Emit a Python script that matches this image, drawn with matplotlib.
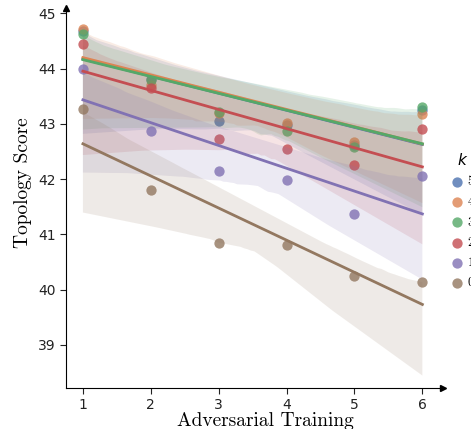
import matplotlib
matplotlib.use("Agg")
import matplotlib.pyplot as plt
import numpy as np
import pandas as pd
import seaborn as sns

x_vals = [1, 2, 3, 4, 5, 6]
k_labels = ["5", "4", "3", "2", "1", "0"]
score_k5 = [44.68, 43.82, 43.05, 42.98, 42.62, 43.25]
score_k4 = [44.72, 43.70, 43.20, 43.02, 42.68, 43.18]
score_k3 = [44.63, 43.80, 43.22, 42.87, 42.58, 43.30]
score_k2 = [44.45, 43.65, 42.72, 42.55, 42.25, 42.90]
score_k1 = [44.00, 42.87, 42.15, 41.98, 41.36, 42.05]
score_k0 = [43.27, 41.80, 40.85, 40.80, 40.25, 40.14]
series = [score_k5, score_k4, score_k3, score_k2, score_k1, score_k0]

colors = sns.color_palette("deep", 6)

fig = plt.figure(figsize=(4.71, 4.29), dpi=100)
ax = fig.add_axes([0.14, 0.0956, 0.80, 0.885])

handles = []
for lab, ys, c in zip(k_labels, series, colors):
    df = pd.DataFrame({"x": x_vals, "y": ys})
    sns.regplot(data=df, x="x", y="y", ax=ax, color=c, seed=0,
                scatter_kws=dict(s=55, alpha=0.8, linewidths=0),
                line_kws=dict(lw=2), truncate=True)
    handles.append(ax.scatter([], [], s=55, color=c, alpha=0.8, linewidths=0, label=lab))

ax.set_xlim(0.75, 6.3)
ax.set_ylim(38.22, 45.09)
ax.set_xticks(x_vals)
ax.set_yticks([39, 40, 41, 42, 43, 44, 45])
ax.tick_params(labelsize=10, colors="#222222", direction="out", length=4)
for s in ["top", "right"]:
    ax.spines[s].set_visible(False)
ax.plot(1, 0, ">k", transform=ax.transAxes, clip_on=False, ms=4)
ax.plot(0, 1, "^k", transform=ax.transAxes, clip_on=False, ms=4)

ax.set_xlabel("Adversarial Training", family="cmr10", fontsize=14)
ax.set_ylabel("Topology Score", family="cmr10", fontsize=14)
ax.xaxis.set_label_coords(0.528, -0.062)
ax.yaxis.set_label_coords(-0.09, 0.542)

leg = fig.legend(handles=handles, title="$k$", loc="upper left",
                 bbox_to_anchor=(0.934, 0.672), frameon=False,
                 prop={"family": "cmr10", "size": 9}, handletextpad=0.3,
                 handlelength=1.0, labelspacing=0.65, title_fontsize=11)

fig.savefig("out.png", dpi=100)
